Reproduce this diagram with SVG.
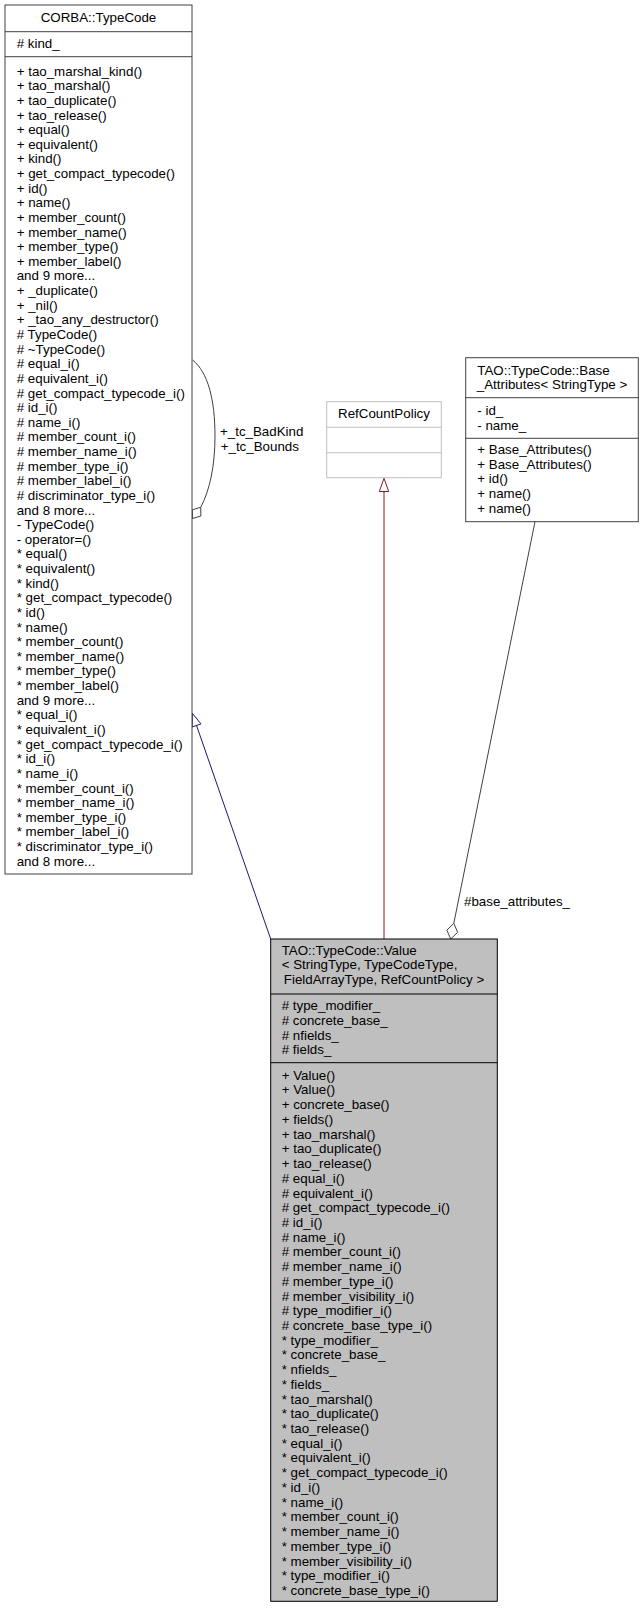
<svg xmlns="http://www.w3.org/2000/svg" width="643" height="1608" viewBox="0 0 643 1608">
<style>
text{font-family:"Liberation Sans",Arial,Helvetica,sans-serif;font-size:13.33px;fill:#000}
.c{text-anchor:middle}
.box{fill:#fff;stroke:#404040;stroke-width:1}
.light{fill:#fff;stroke:#bfbfbf;stroke-width:1}
.cur{fill:#bfbfbf;stroke:#000;stroke-width:1}
.div{stroke:#404040;stroke-width:1}
.divl{stroke:#bfbfbf;stroke-width:1}
.divc{stroke:#000;stroke-width:1}
.blue{fill:none;stroke:#191970;stroke-width:1}
.red{fill:none;stroke:#8b1a1a;stroke-width:1}
.gray{fill:none;stroke:#404040;stroke-width:1}
.tri-b{fill:#fff;stroke:#191970;stroke-width:1}
.tri-r{fill:#fff;stroke:#8b1a1a;stroke-width:1}
.dia{fill:#fff;stroke:#404040;stroke-width:1}
</style>
<rect x="0" y="0" width="643" height="1608" fill="#fff"/>

<g id="connectors">
  <path class="blue" d="M270.7,939 L195.8,723.4"/>
  <polygon class="tri-b" points="192.3,713.3 201,723.9 192.2,727"/>
  <path class="red" d="M384,939 L384,491.5"/>
  <polygon class="tri-r" points="384,478.3 388.7,491.5 379.3,491.5"/>
  <path class="gray" d="M535,521.7 L453.8,923.3"/>
  <polygon class="dia" points="450.7,939 446.85,930.2 453.8,923.3 457.65,932.3"/>
  <text x="464" y="906">#base_attributes_</text>
  <path class="gray" d="M192.5,360 C208,372 215,400 215,436 C215,465 210,490 200.7,507.3"/>
  <polygon class="dia" points="192.5,518.5 192.3,509.8 200.7,507.3 200.9,516"/>
  <text x="220" y="436.3">+_tc_BadKind</text>
  <text x="220.7" y="451.3">+_tc_Bounds</text>
</g>

<g id="node-corba-typecode">
  <rect class="box" x="5" y="5" width="187" height="869"/>
  <line class="div" x1="5" y1="31.7" x2="192" y2="31.7"/>
  <line class="div" x1="5" y1="56.7" x2="192" y2="56.7"/>
  <text class="c" x="98.5" y="21.5">CORBA::TypeCode</text>
  <text x="16.7" y="47.8"># kind_</text>
  <text x="16.7" y="75.6">+ tao_marshal_kind()</text>
  <text x="16.7" y="90.2">+ tao_marshal()</text>
  <text x="16.7" y="104.9">+ tao_duplicate()</text>
  <text x="16.7" y="119.5">+ tao_release()</text>
  <text x="16.7" y="134.1">+ equal()</text>
  <text x="16.7" y="148.8">+ equivalent()</text>
  <text x="16.7" y="163.4">+ kind()</text>
  <text x="16.7" y="178.0">+ get_compact_typecode()</text>
  <text x="16.7" y="192.6">+ id()</text>
  <text x="16.7" y="207.3">+ name()</text>
  <text x="16.7" y="221.9">+ member_count()</text>
  <text x="16.7" y="236.5">+ member_name()</text>
  <text x="16.7" y="251.2">+ member_type()</text>
  <text x="16.7" y="265.8">+ member_label()</text>
  <text x="16.7" y="280.4">and 9 more...</text>
  <text x="16.7" y="295.1">+ _duplicate()</text>
  <text x="16.7" y="309.7">+ _nil()</text>
  <text x="16.7" y="324.3">+ _tao_any_destructor()</text>
  <text x="16.7" y="338.9"># TypeCode()</text>
  <text x="16.7" y="353.6"># ~TypeCode()</text>
  <text x="16.7" y="368.2"># equal_i()</text>
  <text x="16.7" y="382.8"># equivalent_i()</text>
  <text x="16.7" y="397.5"># get_compact_typecode_i()</text>
  <text x="16.7" y="412.1"># id_i()</text>
  <text x="16.7" y="426.7"># name_i()</text>
  <text x="16.7" y="441.4"># member_count_i()</text>
  <text x="16.7" y="456.0"># member_name_i()</text>
  <text x="16.7" y="470.6"># member_type_i()</text>
  <text x="16.7" y="485.2"># member_label_i()</text>
  <text x="16.7" y="499.9"># discriminator_type_i()</text>
  <text x="16.7" y="514.5">and 8 more...</text>
  <text x="16.7" y="529.1">- TypeCode()</text>
  <text x="16.7" y="543.8">- operator=()</text>
  <text x="16.7" y="558.4">* equal()</text>
  <text x="16.7" y="573.0">* equivalent()</text>
  <text x="16.7" y="587.7">* kind()</text>
  <text x="16.7" y="602.3">* get_compact_typecode()</text>
  <text x="16.7" y="616.9">* id()</text>
  <text x="16.7" y="631.5">* name()</text>
  <text x="16.7" y="646.2">* member_count()</text>
  <text x="16.7" y="660.8">* member_name()</text>
  <text x="16.7" y="675.4">* member_type()</text>
  <text x="16.7" y="690.1">* member_label()</text>
  <text x="16.7" y="704.7">and 9 more...</text>
  <text x="16.7" y="719.3">* equal_i()</text>
  <text x="16.7" y="734.0">* equivalent_i()</text>
  <text x="16.7" y="748.6">* get_compact_typecode_i()</text>
  <text x="16.7" y="763.2">* id_i()</text>
  <text x="16.7" y="777.8">* name_i()</text>
  <text x="16.7" y="792.5">* member_count_i()</text>
  <text x="16.7" y="807.1">* member_name_i()</text>
  <text x="16.7" y="821.7">* member_type_i()</text>
  <text x="16.7" y="836.4">* member_label_i()</text>
  <text x="16.7" y="851.0">* discriminator_type_i()</text>
  <text x="16.7" y="865.6">and 8 more...</text>
</g>

<g id="node-refcountpolicy">
  <rect class="light" x="326.7" y="401.7" width="114.6" height="76"/>
  <line class="divl" x1="326.7" y1="427.3" x2="441.3" y2="427.3"/>
  <line class="divl" x1="326.7" y1="452.7" x2="441.3" y2="452.7"/>
  <text class="c" x="384" y="418">RefCountPolicy</text>
</g>

<g id="node-base-attributes">
  <rect class="box" x="465.7" y="357.7" width="172.6" height="164"/>
  <line class="div" x1="465.7" y1="397.7" x2="638.3" y2="397.7"/>
  <line class="div" x1="465.7" y1="438.3" x2="638.3" y2="438.3"/>
  <text x="477.3" y="374.7">TAO::TypeCode::Base</text>
  <text class="c" x="552" y="389">_Attributes&lt; StringType &gt;</text>
  <text x="477.3" y="415.3">- id_</text>
  <text x="477.3" y="429.7">- name_</text>
  <text x="477.3" y="454">+ Base_Attributes()</text>
  <text x="477.3" y="468.7">+ Base_Attributes()</text>
  <text x="477.3" y="483.3">+ id()</text>
  <text x="477.3" y="498">+ name()</text>
  <text x="477.3" y="512.7">+ name()</text>
</g>

<g id="node-value">
  <rect class="cur" x="270.7" y="939" width="226.6" height="662.3"/>
  <line class="divc" x1="270.7" y1="994" x2="497.3" y2="994"/>
  <line class="divc" x1="270.7" y1="1062.7" x2="497.3" y2="1062.7"/>
  <text x="281.7" y="954.7">TAO::TypeCode::Value</text>
  <text x="281.7" y="969.3">&lt; StringType, TypeCodeType,</text>
  <text class="c" x="384" y="984">FieldArrayType, RefCountPolicy &gt;</text>
  <text x="281.7" y="1010.3"># type_modifier_</text>
  <text x="281.7" y="1025"># concrete_base_</text>
  <text x="281.7" y="1039.7"># nfields_</text>
  <text x="281.7" y="1054.3"># fields_</text>
  <text x="281.7" y="1079.7">+ Value()</text>
  <text x="281.7" y="1094.4">+ Value()</text>
  <text x="281.7" y="1109.1">+ concrete_base()</text>
  <text x="281.7" y="1123.9">+ fields()</text>
  <text x="281.7" y="1138.6">+ tao_marshal()</text>
  <text x="281.7" y="1153.3">+ tao_duplicate()</text>
  <text x="281.7" y="1168.0">+ tao_release()</text>
  <text x="281.7" y="1182.7"># equal_i()</text>
  <text x="281.7" y="1197.5"># equivalent_i()</text>
  <text x="281.7" y="1212.2"># get_compact_typecode_i()</text>
  <text x="281.7" y="1226.9"># id_i()</text>
  <text x="281.7" y="1241.6"># name_i()</text>
  <text x="281.7" y="1256.3"># member_count_i()</text>
  <text x="281.7" y="1271.1"># member_name_i()</text>
  <text x="281.7" y="1285.8"># member_type_i()</text>
  <text x="281.7" y="1300.5"># member_visibility_i()</text>
  <text x="281.7" y="1315.2"># type_modifier_i()</text>
  <text x="281.7" y="1329.9"># concrete_base_type_i()</text>
  <text x="281.7" y="1344.7">* type_modifier_</text>
  <text x="281.7" y="1359.4">* concrete_base_</text>
  <text x="281.7" y="1374.1">* nfields_</text>
  <text x="281.7" y="1388.8">* fields_</text>
  <text x="281.7" y="1403.5">* tao_marshal()</text>
  <text x="281.7" y="1418.3">* tao_duplicate()</text>
  <text x="281.7" y="1433.0">* tao_release()</text>
  <text x="281.7" y="1447.7">* equal_i()</text>
  <text x="281.7" y="1462.4">* equivalent_i()</text>
  <text x="281.7" y="1477.1">* get_compact_typecode_i()</text>
  <text x="281.7" y="1491.9">* id_i()</text>
  <text x="281.7" y="1506.6">* name_i()</text>
  <text x="281.7" y="1521.3">* member_count_i()</text>
  <text x="281.7" y="1536.0">* member_name_i()</text>
  <text x="281.7" y="1550.7">* member_type_i()</text>
  <text x="281.7" y="1565.5">* member_visibility_i()</text>
  <text x="281.7" y="1580.2">* type_modifier_i()</text>
  <text x="281.7" y="1594.9">* concrete_base_type_i()</text>
</g>
</svg>
